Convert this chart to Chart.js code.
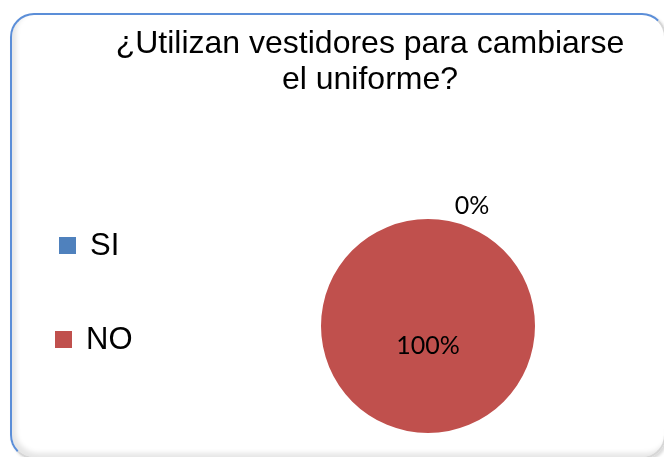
<!DOCTYPE html>
<html>
<head>
<meta charset="utf-8">
<script src="https://cdn.jsdelivr.net/npm/chart.js@4/dist/chart.umd.min.js"></script>
<style>
    html, body { margin: 0; padding: 0; background: #fff; }
    #marco {
        position: absolute; left: 10px; top: 13px; width: 652px; height: 442px;
        border: 2px solid; border-color: #5b8ed8 #d6d6d6 #d6d6d6 #5b8ed8;
        border-radius: 24px;
        box-shadow: inset 4px -4px 5px rgba(0,0,0,0.10), 2px 2px 3px rgba(0,0,0,0.15);
    }
    #wrap { position: absolute; left: 0; top: 0; width: 664px; height: 457px; }
</style>
</head>
<body>
<div id="marco"></div>
<div id="wrap"><canvas id="grafico"></canvas></div>
<script>
    // datos del gráfico
    var titulo = ['¿Utilizan vestidores para cambiarse', 'el uniforme?'];
    var categorias = ['SI', 'NO'];
    var valores = [0, 100];
    var colores = ['#4f81bd', '#c0504d'];

    // dibuja titulo, leyenda y porcentajes
    var textos = {
        id: 'textos',
        afterDraw: function (chart) {
            var ctx = chart.ctx;
            ctx.save();
            ctx.fillStyle = '#000';
            ctx.textAlign = 'center';
            ctx.textBaseline = 'middle';
            ctx.font = '32px "Liberation Sans", Arial, sans-serif';
            titulo.forEach(function (t, i) {
                ctx.fillText(t, 370, 44 + i * 36);
            });

            // leyenda
            var legY = [245, 339];
            var legX = [59, 55];
            categorias.forEach(function (c, i) {
                ctx.fillStyle = colores[i];
                ctx.fillRect(legX[i], legY[i] - 8, 17, 17);
                ctx.fillStyle = '#000';
                ctx.textAlign = 'left';
                ctx.font = '31px "Liberation Sans", Arial, sans-serif';
                ctx.fillText(c, legX[i] + 31, legY[i] + 1);
            });

            // porcentajes
            var meta = chart.getDatasetMeta(0);
            var total = valores.reduce(function (a, b) { return a + b; }, 0);
            ctx.font = '25px Lato, sans-serif';
            ctx.textAlign = 'center';
            meta.data.forEach(function (arc, i) {
                var p = arc.getProps(['x', 'y', 'startAngle', 'endAngle', 'outerRadius'], true);
                var ang = (p.startAngle + p.endAngle) / 2;
                var pct = Math.round(valores[i] / total * 100) + '%';
                var x, y;
                if (valores[i] === 0) {
                    x = p.x + Math.cos(ang) * (p.outerRadius + 13) + 44;
                    y = p.y + Math.sin(ang) * (p.outerRadius + 13);
                } else {
                    x = p.x + Math.cos(ang) * p.outerRadius * 0.19;
                    y = p.y + Math.sin(ang) * p.outerRadius * 0.19;
                }
                ctx.fillStyle = '#000';
                ctx.fillText(pct, x, y);
            });
            ctx.restore();
        }
    };

    new Chart(document.getElementById('grafico'), {
        type: 'pie',
        data: {
            labels: categorias,
            datasets: [{
                data: valores,
                backgroundColor: colores,
                borderWidth: 0
            }]
        },
        options: {
            responsive: true,
            maintainAspectRatio: false,
            animation: false,
            layout: { padding: { left: 321, right: 129, top: 219, bottom: 24 } },
            plugins: {
                legend: { display: false },
                tooltip: { enabled: false },
                title: { display: false }
            }
        },
        plugins: [textos]
    });
</script>
</body>
</html>
